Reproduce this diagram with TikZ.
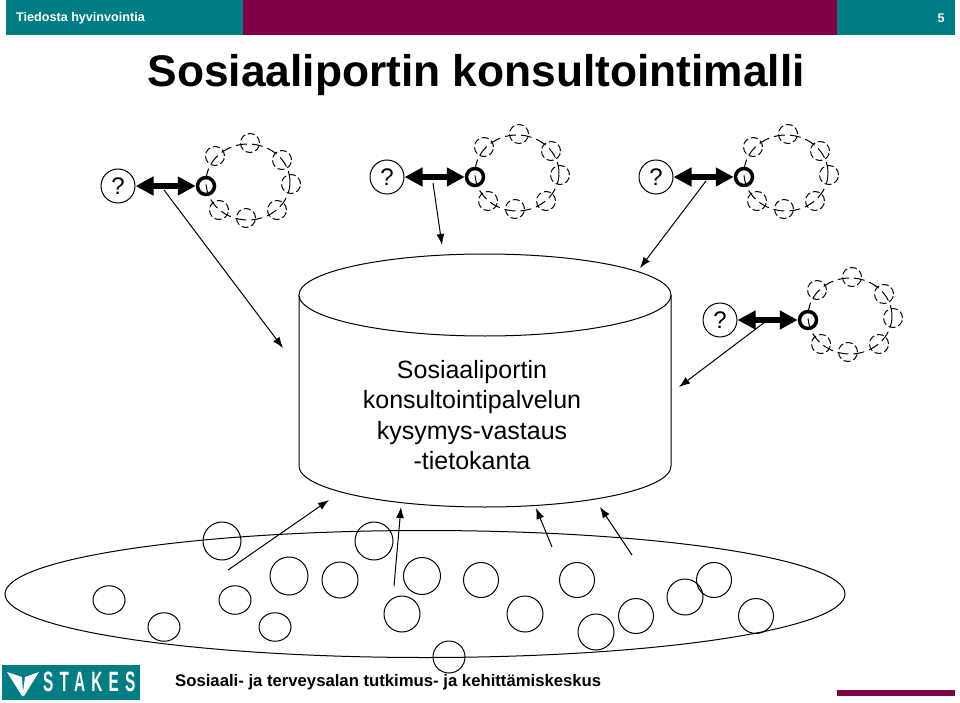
\documentclass[tikz,border=0pt]{standalone}
\usepackage{fontspec}
\setmainfont{Liberation Sans}
\newfontfamily\logofont[FakeStretch=0.55,LetterSpace=22]{Liberation Sans Bold}
\usetikzlibrary{arrows.meta,shapes.geometric}
\definecolor{stakesteal}{RGB}{0,125,130}
\definecolor{stakesmaroon}{RGB}{128,0,70}
\tikzset{
    bubble/.style = {circle, draw, inner sep=0pt, minimum size=#1, line width=1pt},
    flatbubble/.style = {ellipse, draw, inner sep=0pt, minimum width=32, minimum height=28.5, line width=1pt},
    askbox/.style = {bubble=34, font=\fontsize{24}{24}\selectfont},
    hubnode/.style = {circle, draw, inner sep=0pt, minimum size=17, line width=3.5pt},
    peernode/.style = {circle, draw, dashed, dash pattern=on 7pt off 3pt, inner sep=0pt, minimum size=19, line width=1pt},
    link/.style = {-{Latex[length=11pt,width=8pt]}, line width=1pt},
    duplex/.style = {{Triangle[length=18pt,width=18pt]}-{Triangle[length=18pt,width=18pt]}, line width=5.5pt},
    pics/cluster/.style = {
        code = {
            \draw[dashed, dash pattern=on 11pt off 5pt, line width=1pt] (42,4) ellipse (42 and 38);
            \node[hubnode] (hub) at (0,0){};
            \node[peernode] (p1) at ( 9,30){};
            \node[peernode] (p2) at (44,43){};
            \node[peernode] (p3) at (76,26){};
            \node[peernode] (p4) at (85, 2){};
            \node[peernode] (p5) at (71,-24){};
            \node[peernode] (p6) at (40,-32){};
            \node[peernode] (p7) at (13,-24){};
            \node[askbox] (ask) at (-88,0){?};
            \draw[duplex] (ask) -- (hub);
        }
    }
}
\begin{document}
\begin{tikzpicture}[x=1pt, y=1pt, font=\bfseries]
    \useasboundingbox (0,0) rectangle (960,-703);
    % header
    \fill[stakesteal] (6,0) rectangle (243,-35);
    \fill[stakesmaroon] (243,0) rectangle (837,-35);
    \fill[stakesteal] (837,0) rectangle (955,-35);
    \node[text=white, anchor=west, inner sep=0pt, font=\bfseries\fontsize{12.6}{12.6}\selectfont] (section) at (16,-18.5) {Tiedosta hyvinvointia};
    \node[text=white, font=\bfseries\fontsize{12.6}{12.6}\selectfont] (pageno) at (941,-18.5) {5};
    \node[anchor=west, inner sep=0pt, font=\bfseries\fontsize{44.3}{44.3}\selectfont] (title) at (147.5,-75) {Sosiaaliportin konsultointimalli};

    % clusters
    \pic (A) at (206,-186) {cluster};
    \pic (B) at (475,-177) {cluster};
    \pic (C) at (744,-177) {cluster};
    \pic (D) at (808,-320) {cluster};

    % database
    \draw[line width=1pt, fill=white] (299,-295) -- (299,-466) arc[start angle=180, end angle=360, x radius=186, y radius=41] -- (671,-295);
    \draw[line width=1pt, fill=white] (485,-295) ellipse (186 and 41);
    \node[align=center, font=\fontsize{25}{30.5}\selectfont] (kb) at (472,-415) {Sosiaaliportin\\konsultointipalvelun\\kysymys-vastaus\\-tietokanta};

    % community
    \draw[line width=1pt] (425,-594) ellipse (420 and 63.5);
    \node[bubble=38] (m1) at (222,-541){};
    \node[bubble=38] (m2) at (374,-541){};
    \node[bubble=38] (m3) at (289,-576){};
    \node[bubble=36] (m4) at (340,-580){};
    \node[bubble=37] (m5) at (422,-576){};
    \node[bubble=35] (m6) at (481,-580){};
    \node[bubble=35] (m7) at (577,-580){};
    \node[bubble=35] (m8) at (714,-580){};
    \node[bubble=36] (m9) at (685,-597){};
    \node[flatbubble] (m10) at (109,-600){};
    \node[flatbubble] (m11) at (235,-600){};
    \node[bubble=36] (m12) at (402,-614){};
    \node[bubble=36] (m13) at (525,-614){};
    \node[bubble=35] (m14) at (636,-616){};
    \node[bubble=35] (m15) at (756,-616){};
    \node[flatbubble] (m16) at (164,-627){};
    \node[flatbubble] (m17) at (275,-627){};
    \node[bubble=36] (m18) at (596,-632){};
    \node[bubble=32] (m19) at (449,-657){};

    % links to the database
    \coordinate (dbA) at (283,-348);
    \coordinate (dbB) at (442,-245);
    \coordinate (dbC) at (640,-268);
    \coordinate (dbD) at (679,-387);
    \coordinate (dbE) at (329,-500);
    \coordinate (dbF) at (401,-507);
    \coordinate (dbG) at (536,-508);
    \coordinate (dbH) at (600,-507);
    \coordinate (fromA) at (164,-190);
    \coordinate (fromB) at (433,-183);
    \coordinate (fromC) at (706,-181);
    \coordinate (fromD) at (765,-322);
    \coordinate (fromE) at (228,-570);
    \coordinate (fromF) at (394,-586);
    \coordinate (fromG) at (552,-547);
    \coordinate (fromH) at (632,-555);
    \foreach \src/\dst in {fromA/dbA,fromB/dbB,fromC/dbC,fromD/dbD,fromE/dbE,fromF/dbF,fromG/dbG,fromH/dbH}
        \draw[link] (\src) -- (\dst);

    % footer
    \fill[stakesteal] (2,-665) rectangle (140,-700);
    \fill[white] (7,-672) -- (22,-677) -- (23,-692) -- (25,-677) -- (39,-672) -- (24,-696) -- (22,-696) -- cycle;
    \node[text=white, anchor=west, inner sep=0pt, font=\logofont\fontsize{28}{28}\selectfont] (logo) at (43,-682) {STAKES};
    \node[anchor=west, inner sep=0pt, font=\bfseries\fontsize{16.7}{16.7}\selectfont] (org) at (175,-682.5) {Sosiaali- ja terveysalan tutkimus- ja kehittämiskeskus};
    \fill[stakesmaroon] (837,-690) rectangle (955,-696);
\end{tikzpicture}
\end{document}
